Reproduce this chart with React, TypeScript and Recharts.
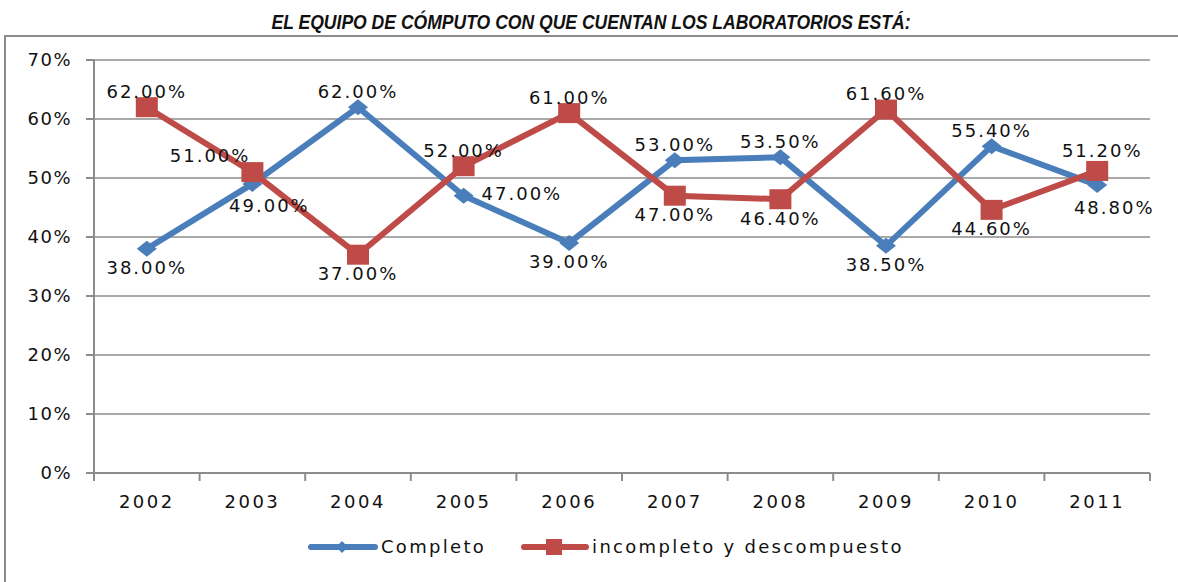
import { LineChart, Line, XAxis, YAxis, CartesianGrid, Legend, LabelList } from "recharts";

const YEARS = ["2002", "2003", "2004", "2005", "2006", "2007", "2008", "2009", "2010", "2011"];
const COMPLETO = [38, 49, 62, 47, 39, 53, 53.5, 38.5, 55.4, 48.8];
const INCOMPLETO = [62, 51, 37, 52, 61, 47, 46.4, 61.6, 44.6, 51.2];
const Y_TICKS = [0, 10, 20, 30, 40, 50, 60, 70];

// where each data label sits relative to its point
const COMPLETO_LABELS = ["below", "belowRight", "above", "right", "below", "above", "above", "below", "above", "belowRight"];
const INCOMPLETO_LABELS = ["above", "left", "below", "above", "above", "below", "below", "above", "below", "aboveRight"];

const data = YEARS.map((year, i) => ({
  year,
  completo: COMPLETO[i],
  incompleto: INCOMPLETO[i],
}));

const W = 1178;
const H = 582;
const MARGIN = { top: 60, right: 28, left: 0, bottom: 49 };
const Y_AXIS_W = 94;
const BAND = (W - MARGIN.left - MARGIN.right - Y_AXIS_W) / YEARS.length;

const BLUE = "#4A7EBB";
const RED = "#BE4B48";
const GRID = "#8C8C8C";
const FONT = "'DejaVu Sans', Verdana, sans-serif";

const OFFSETS: Record<string, [number, number, string]> = {
  above: [0, -16, "middle"],
  below: [0, 19, "middle"],
  left: [-2, -17, "end"],
  right: [18, -2, "start"],
  belowRight: [17, 22, "middle"],
  aboveRight: [5, -20, "middle"],
};

const makeLabel = (places: string[]) => (props: any) => {
  const { x, y, value, index } = props;
  const [dx, dy, anchor] = OFFSETS[places[index]] || OFFSETS.above;
  return (
    <text
      x={x + dx}
      y={y + dy}
      textAnchor={anchor}
      dominantBaseline="central"
      fontFamily={FONT}
      fontSize={18}
      letterSpacing={2}
      fill="#111"
    >
      {`${Number(value).toFixed(2)}%`}
    </text>
  );
};

const Diamond = ({ cx, cy }: any) => (
  <polygon
    points={`${cx},${cy - 8} ${cx + 10},${cy} ${cx},${cy + 8} ${cx - 10},${cy}`}
    fill={BLUE}
  />
);

const Square = ({ cx, cy }: any) => (
  <rect x={cx - 11} y={cy - 10} width={22} height={20} fill={RED} />
);

const YearTick = ({ x, y, payload, index }: any) => {
  const half = BAND / 2;
  return (
    <g>
      <line x1={x - half} x2={x - half} y1={y - 8} y2={y} stroke={GRID} strokeWidth={2} />
      {index === YEARS.length - 1 && (
        <line x1={x + half} x2={x + half} y1={y - 8} y2={y} stroke={GRID} strokeWidth={2} />
      )}
      <text
        x={x}
        y={y}
        dy={27}
        textAnchor="middle"
        fontFamily={FONT}
        fontSize={18}
        letterSpacing={2.5}
        fill="#111"
      >
        {payload.value}
      </text>
    </g>
  );
};

const LegendContent = () => (
  <div style={{ display: "flex", alignItems: "center", gap: 35, fontFamily: FONT, fontSize: 18, letterSpacing: 2.3, color: "#111" }}>
    <div style={{ display: "flex", alignItems: "center" }}>
      <svg width={70} height={20}>
        <line x1={3} x2={67} y1={10} y2={10} stroke={BLUE} strokeWidth={6} strokeLinecap="round" />
        <polygon points="34,4 40,10 34,16 28,10" fill={BLUE} />
      </svg>
      <span style={{ marginLeft: 3 }}>Completo</span>
    </div>
    <div style={{ display: "flex", alignItems: "center" }}>
      <svg width={68} height={20}>
        <line x1={3} x2={65} y1={10} y2={10} stroke={RED} strokeWidth={6} strokeLinecap="round" />
        <rect x={25} y={2} width={16} height={16} fill={RED} />
      </svg>
      <span style={{ marginLeft: 3 }}>incompleto y descompuesto</span>
    </div>
  </div>
);

export default function App() {
  return (
    <div style={{ position: "absolute", left: 0, top: 0, width: W, height: H, background: "#fff", overflow: "hidden" }}>
      <svg width={W} height={H} style={{ position: "absolute", left: 0, top: 0 }}>
        <rect x={5} y={36} width={W + 20} height={H} fill="none" stroke={GRID} strokeWidth={2} />
        <text
          x={591}
          y={29}
          textAnchor="middle"
          textLength={639}
          lengthAdjust="spacingAndGlyphs"
          fontFamily="'Liberation Sans Narrow', 'Liberation Sans', Arial, sans-serif"
          fontWeight="bold"
          fontStyle="italic"
          fontSize={20}
          fill="#111"
        >
          EL EQUIPO DE CÓMPUTO CON QUE CUENTAN LOS LABORATORIOS ESTÁ:
        </text>
      </svg>
      <div style={{ position: "absolute", left: 0, top: 0 }}>
        <LineChart width={W} height={H} data={data} margin={MARGIN}>
          <CartesianGrid horizontal vertical={false} stroke={GRID} strokeWidth={1.5} />
          <XAxis
            dataKey="year"
            height={60}
            padding={{ left: BAND / 2, right: BAND / 2 }}
            tickLine={false}
            tickSize={8}
            tickMargin={0}
            axisLine={{ stroke: GRID, strokeWidth: 2 }}
            tick={<YearTick />}
            interval={0}
          />
          <YAxis
            width={Y_AXIS_W}
            domain={[0, 70]}
            ticks={Y_TICKS}
            tickFormatter={(v) => `${v}%`}
            tickSize={8}
            tickMargin={14}
            tickLine={{ stroke: GRID, strokeWidth: 2 }}
            axisLine={{ stroke: GRID, strokeWidth: 2 }}
            tick={{ fontFamily: FONT, fontSize: 18, fill: "#111", letterSpacing: 1.5 }}
          />
          <Legend
            verticalAlign="middle"
            layout="horizontal"
            wrapperStyle={{ left: 308, top: 536, width: 700 }}
            content={<LegendContent />}
          />
          <Line
            type="linear"
            dataKey="completo"
            name="Completo"
            stroke={BLUE}
            strokeWidth={6}
            dot={(p: any) => <Diamond key={`d${p.index}`} {...p} />}
            activeDot={false}
            isAnimationActive={false}
          >
            <LabelList dataKey="completo" content={makeLabel(COMPLETO_LABELS)} />
          </Line>
          <Line
            type="linear"
            dataKey="incompleto"
            name="incompleto y descompuesto"
            stroke={RED}
            strokeWidth={6}
            dot={(p: any) => <Square key={`s${p.index}`} {...p} />}
            activeDot={false}
            isAnimationActive={false}
          >
            <LabelList dataKey="incompleto" content={makeLabel(INCOMPLETO_LABELS)} />
          </Line>
        </LineChart>
      </div>
    </div>
  );
}
